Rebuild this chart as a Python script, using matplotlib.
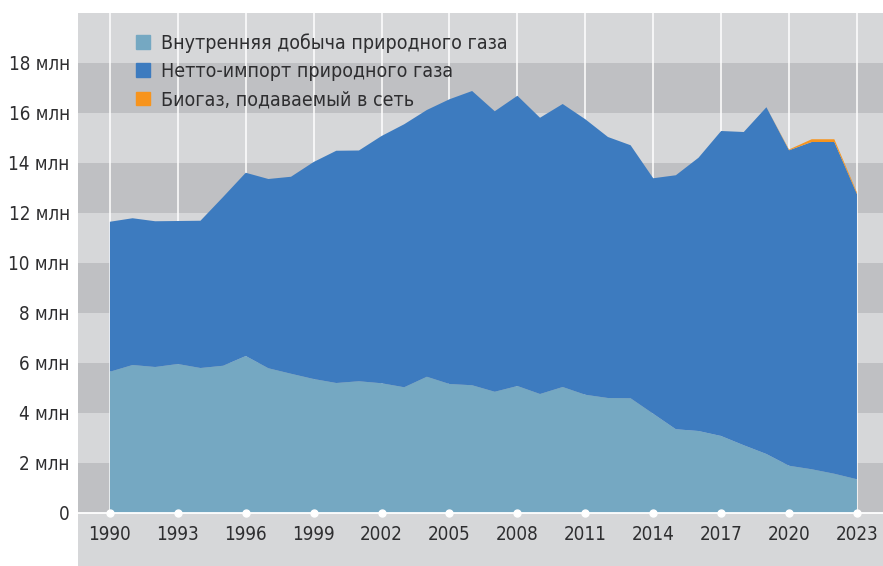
import matplotlib.pyplot as plt
import numpy as np

years = np.arange(1990, 2024)
# млн
domestic = [5.65, 5.92, 5.84, 5.96, 5.80, 5.89, 6.28, 5.79, 5.57, 5.36,
            5.20, 5.27, 5.19, 5.03, 5.45, 5.16, 5.11, 4.85, 5.08, 4.76,
            5.04, 4.73, 4.60, 4.59, 3.97, 3.35, 3.28, 3.08, 2.71, 2.36,
            1.89, 1.75, 1.57, 1.35]
net_import = [6.00, 5.87, 5.83, 5.72, 5.89, 6.75, 7.33, 7.57, 7.88, 8.68,
              9.29, 9.23, 9.89, 10.52, 10.67, 11.39, 11.77, 11.22, 11.61, 11.05,
              11.32, 11.02, 10.44, 10.12, 9.42, 10.16, 10.93, 12.20, 12.53, 13.87,
              12.62, 13.09, 13.27, 11.41]
biogas = [0] * 30 + [0.03, 0.11, 0.11, 0.06]
labels = ['Внутренняя добыча природного газа',
          'Нетто-импорт природного газа',
          'Биогаз, подаваемый в сеть']
colors = ['#75a8c2', '#3d7bbf', '#f7941d']
yticks = np.arange(0, 20, 2)
xticks = np.arange(1990, 2024, 3)

plt.rcParams['font.family'] = ['DejaVu Sans']
plt.rcParams['font.stretch'] = 'condensed'
txt = '#2e2e30'
light, dark = '#d6d7d9', '#bfc0c3'
fs = 13.5

fig = plt.figure(figsize=(8.83, 5.66), dpi=100)
ax = fig.add_axes([78 / 883, 0, 805 / 883, 553 / 566])
ax.set_facecolor(light)
ax.set_xlim(1988.59, 2024.15)
ax.set_ylim(-2.12, 20)

for lo in yticks[::2]:
    ax.axhspan(lo, lo + 2, color=dark, lw=0, zorder=0)
for x in xticks:
    ax.plot([x, x], [0, 20], color='white', lw=1.1, zorder=1)

ax.stackplot(years, domestic, net_import, biogas, colors=colors, lw=0, zorder=2)

ax.axhline(0, color='white', lw=1.3, zorder=3)
ax.plot(xticks, np.zeros(len(xticks)), 'o', color='white', ms=5, zorder=4, clip_on=False)

for s in ax.spines.values():
    s.set_visible(False)
ax.tick_params(length=0)
ax.set_yticks(yticks)
ax.set_yticklabels(['0'] + [f'{v} млн' for v in yticks[1:]], fontsize=fs, color=txt)
ax.tick_params(axis='y', pad=6)
ax.set_xticks([])
for x in xticks:
    ax.text(x, -0.88, str(x), ha='center', va='center', fontsize=fs, color=txt)

handles = [plt.Rectangle((0, 0), 1, 1, color=c) for c in colors]
ax.legend(handles, labels, loc='upper left', bbox_to_anchor=(0.063, 0.978), frameon=False,
          fontsize=14, labelcolor=txt, handlelength=0.7, handleheight=0.7,
          handletextpad=0.55, labelspacing=0.48, borderaxespad=0)

fig.savefig('out.png', dpi=100)
